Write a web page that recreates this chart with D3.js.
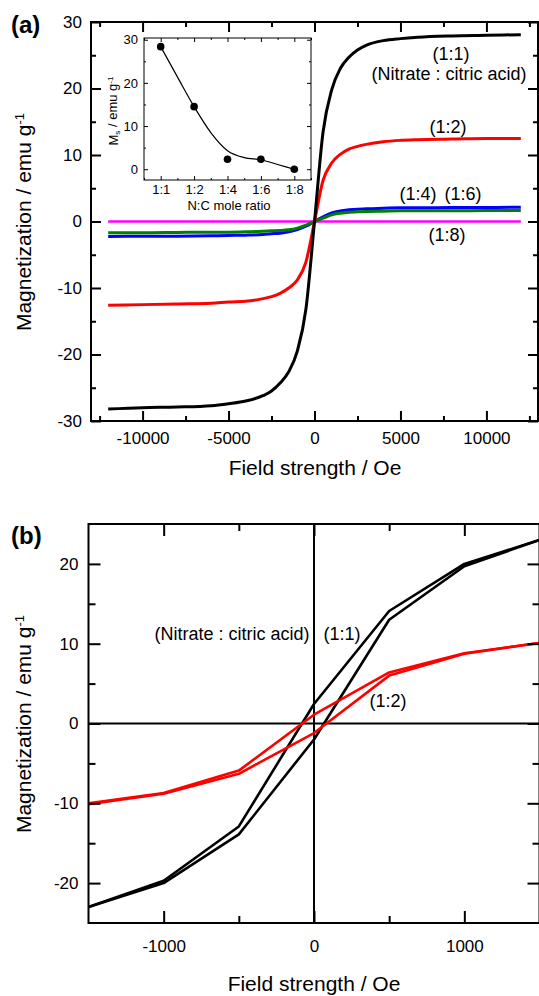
<!DOCTYPE html>
<html><head><meta charset="utf-8">
<script src="https://cdn.jsdelivr.net/npm/d3@7"></script>
<style>body{margin:0;background:#fff}svg{display:block}</style>
</head><body><svg id="c" width="539" height="996"></svg>
<script>
// ---------- DATA ----------
const fieldA = [-12000,-10000,-8000,-6000,-5000,-4000,-3000,-2500,-2000,-1500,-1000,-500,0,500,1000,1500,2000,2500,3000,4000,5000,6000,8000,10000,12000];
const mag11 = [-28.2,-28.0,-27.9,-27.7,-27.4,-27.0,-26.2,-25.5,-24.3,-22.6,-19.5,-13.2,0,13.5,19.8,23.0,24.7,25.8,26.5,27.2,27.5,27.7,27.9,28.0,28.1];
const mag12 = [-12.6,-12.5,-12.4,-12.3,-12.1,-12.0,-11.6,-11.3,-10.8,-10.0,-8.8,-6.1,0,6.2,8.8,10.1,10.9,11.3,11.6,12.0,12.2,12.3,12.4,12.5,12.5];
const mag14 = [-2.25,-2.22,-2.2,-2.15,-2.1,-2.05,-1.95,-1.85,-1.75,-1.55,-1.2,-0.7,0,0.7,1.3,1.6,1.75,1.85,1.9,2.0,2.05,2.05,2.1,2.1,2.15];
const mag16 = [-1.7,-1.7,-1.65,-1.6,-1.6,-1.55,-1.45,-1.4,-1.35,-1.25,-1.0,-0.55,0,0.5,1.0,1.25,1.4,1.45,1.5,1.55,1.6,1.6,1.6,1.65,1.65];
const mag18 = [0,0,0,0,0,0,0,0,0,0,0,0,0,0,0,0,0,0,0,0,0,0,0,0,0];

const ratios = ["1:1","1:2","1:4","1:6","1:8"];
const msValues = [28.4,14.5,2.3,2.3,0];
const fitPos = [0,0.5,1,1.5,2,2.5,3,3.5,4];
const fitMs = [28.4,21.4,14.5,8.5,4.3,2.7,2.2,1.1,0];

const fieldB = [-1500,-1000,-500,0,500,1000,1500];
const desc11 = [-23.0,-19.7,-12.9,2.45,14.1,20.0,23.0];
const asc11  = [-23.0,-20.0,-13.9,-2.0,13.0,19.7,23.0];
const desc12 = [-10.0,-8.7,-5.9,1.1,6.4,8.8,10.1];
const asc12  = [-10.1,-8.8,-6.3,-1.2,6.0,8.75,10.1];

const ticksAx = [-10000,-5000,0,5000,10000];
const minorAx = [-12500,-7500,-2500,2500,7500,12500];
const ticksAy = [-30,-20,-10,0,10,20,30];
const minorAy = [-25,-15,-5,5,15,25];
const ticksBx = [-1000,0,1000];
const minorBx = [-500,500];
const ticksBy = [-20,-10,0,10,20];
const minorBy = [-15,-5,5,15];
const insetTicksY = [0,10,20,30];
const insetMinorY = [5,15,25];

// ---------- DRAW ----------
const FONT = "'Liberation Sans', Arial, Helvetica, sans-serif";
const svg = d3.select("#c").style("font-family", FONT);

function styleAxis(g, sw, fs){
  g.select(".domain").remove();
  g.selectAll("line").attr("stroke","#000").attr("stroke-width",sw);
  g.attr("font-family",FONT).attr("font-size",fs);
  g.selectAll("text").attr("fill","#000");
}

function frame(x, y, o){
  const [x0,x1] = x.range(), [y0,y1] = [y.range()[1], y.range()[0]];
  const g = svg.append("g");
  // bottom
  g.append("g").attr("transform",`translate(0,${y.range()[0]})`)
    .call(d3.axisBottom(x).tickValues(o.xt).tickSize(-o.maj).tickPadding(o.xpad).tickFormat(o.xf))
    .call(a=>styleAxis(a,o.sw,o.fs));
  g.append("g").attr("transform",`translate(0,${y.range()[0]})`)
    .call(d3.axisBottom(x).tickValues(o.xm).tickSize(-o.min).tickFormat(""))
    .call(a=>styleAxis(a,o.sw,o.fs));
  // top
  g.append("g").attr("transform",`translate(0,${y.range()[1]})`)
    .call(d3.axisTop(x).tickValues(o.xt.concat(o.xm)).tickSize(-o.maj).tickFormat(""))
    .call(a=>{styleAxis(a,o.sw,o.fs); a.selectAll(".tick").filter(d=>o.xm.includes(d)).select("line").attr("y2",o.min);});
  // left
  g.append("g").attr("transform",`translate(${x0},0)`)
    .call(d3.axisLeft(y).tickValues(o.yt).tickSize(-o.maj).tickPadding(o.ypad).tickFormat(o.yf))
    .call(a=>styleAxis(a,o.sw,o.fs));
  g.append("g").attr("transform",`translate(${x0},0)`)
    .call(d3.axisLeft(y).tickValues(o.ym).tickSize(-o.min).tickFormat(""))
    .call(a=>styleAxis(a,o.sw,o.fs));
  // right
  g.append("g").attr("transform",`translate(${x1},0)`)
    .call(d3.axisRight(y).tickValues(o.yt).tickSize(-o.maj).tickFormat(""))
    .call(a=>styleAxis(a,o.sw,o.fs));
  g.append("g").attr("transform",`translate(${x1},0)`)
    .call(d3.axisRight(y).tickValues(o.ym).tickSize(-o.min).tickFormat(""))
    .call(a=>styleAxis(a,o.sw,o.fs));
  g.append("rect").attr("x",x0).attr("y",y.range()[1]).attr("width",x1-x0).attr("height",y.range()[0]-y.range()[1])
    .attr("fill","none").attr("stroke","#000").attr("stroke-width",o.sw);
  return g;
}

function yTitle(cx, cy){
  const t = svg.append("text").attr("transform",`translate(${cx},${cy}) rotate(-90)`)
    .attr("text-anchor","middle").attr("font-size",21).attr("fill","#000");
  t.append("tspan").text("Magnetization / emu g");
  t.append("tspan").attr("dy","-0.55em").attr("font-size",13).text("-1");
}
function label(x, y, s, fs){
  svg.append("text").attr("x",x).attr("y",y).attr("text-anchor","middle")
    .attr("font-size",fs||18).attr("fill","#000").text(s);
}

// ===== Panel (a) =====
const xA = d3.scaleLinear().domain([-13000,13000]).range([91,538]);
const yA = d3.scaleLinear().domain([-30,30]).range([421,22]);
const lineA = arr => d3.line().x((d,i)=>xA(fieldA[i])).y(d=>yA(d)).curve(d3.curveMonotoneX)(arr);

const seriesA = [
  {v:mag18,c:"#ff00ff",w:2.6},
  {v:mag14,c:"#0000ff",w:3},
  {v:mag16,c:"#008000",w:3},
  {v:mag12,c:"#ff0000",w:3},
  {v:mag11,c:"#000000",w:3}
];
seriesA.forEach(s=>svg.append("path").attr("d",lineA(s.v)).attr("fill","none")
  .attr("stroke",s.c).attr("stroke-width",s.w).attr("stroke-linejoin","round"));

frame(xA,yA,{xt:ticksAx,xm:minorAx,yt:ticksAy,ym:minorAy,maj:10,min:5,sw:2,fs:17,
  xpad:11,ypad:9,xf:d3.format("d"),yf:d3.format("d")});

yTitle(31,222);
svg.append("text").attr("x",315).attr("y",475).attr("text-anchor","middle").attr("font-size",21).text("Field strength / Oe");
svg.append("text").attr("x",11).attr("y",33).attr("font-size",24).attr("font-weight","bold").text("(a)");

label(451,59.5,"(1:1)");
label(449,79.5,"(Nitrate : citric acid)");
label(448,133,"(1:2)");
label(418,200,"(1:4)");
label(463,200,"(1:6)");
label(447,241,"(1:8)");

// ----- Inset -----
const xI = d3.scaleLinear().domain([-0.5,4.5]).range([144,311]);
const yI = d3.scaleLinear().domain([-2.5,30.4]).range([180,38]);
svg.append("rect").attr("x",144).attr("y",38).attr("width",167).attr("height",142).attr("fill","#fff");
const gi = svg.append("g");
const iopt = {sw:1};
function insetAxes(){
  const idx = ratios.map((r,i)=>i);
  const mids = [-0.5,0.5,1.5,2.5,3.5,4.5];
  gi.append("g").attr("transform","translate(0,180)")
    .call(d3.axisBottom(xI).tickValues(idx).tickSize(-4).tickPadding(5).tickFormat(i=>ratios[i]))
    .call(a=>styleAxis(a,1,13));
  gi.append("g").attr("transform","translate(0,180)")
    .call(d3.axisBottom(xI).tickValues(mids).tickSize(-2).tickFormat(""))
    .call(a=>styleAxis(a,1,13));
  gi.append("g").attr("transform","translate(0,38)")
    .call(d3.axisTop(xI).tickValues(idx).tickSize(-4).tickFormat(""))
    .call(a=>styleAxis(a,1,13));
  gi.append("g").attr("transform","translate(0,38)")
    .call(d3.axisTop(xI).tickValues(mids).tickSize(-2).tickFormat(""))
    .call(a=>styleAxis(a,1,13));
  gi.append("g").attr("transform","translate(144,0)")
    .call(d3.axisLeft(yI).tickValues(insetTicksY).tickSize(-4).tickPadding(6).tickFormat(d3.format("d")))
    .call(a=>styleAxis(a,1,13));
  gi.append("g").attr("transform","translate(144,0)")
    .call(d3.axisLeft(yI).tickValues(insetMinorY).tickSize(-2).tickFormat(""))
    .call(a=>styleAxis(a,1,13));
  gi.append("g").attr("transform","translate(311,0)")
    .call(d3.axisRight(yI).tickValues(insetTicksY).tickSize(-4).tickFormat(""))
    .call(a=>styleAxis(a,1,13));
  gi.append("g").attr("transform","translate(311,0)")
    .call(d3.axisRight(yI).tickValues(insetMinorY).tickSize(-2).tickFormat(""))
    .call(a=>styleAxis(a,1,13));
  gi.append("rect").attr("x",144).attr("y",38).attr("width",167).attr("height",142)
    .attr("fill","none").attr("stroke","#000").attr("stroke-width",1);
}
gi.append("path").attr("d",d3.line().x((d,i)=>xI(fitPos[i])).y(d=>yI(d)).curve(d3.curveMonotoneX)(fitMs))
  .attr("fill","none").attr("stroke","#000").attr("stroke-width",1.2);
gi.selectAll("circle").data(msValues).join("circle")
  .attr("cx",(d,i)=>xI(i)).attr("cy",d=>yI(d)).attr("r",3.8).attr("fill","#000");
insetAxes();
{
  const t = svg.append("text").attr("transform","translate(118,111) rotate(-90)")
    .attr("text-anchor","middle").attr("font-size",13).attr("fill","#000");
  t.append("tspan").text("M");
  t.append("tspan").attr("dy","0.3em").attr("font-size",8).text("s");
  t.append("tspan").attr("dy","-0.3em").text(" / emu g");
  t.append("tspan").attr("dy","-0.5em").attr("font-size",8).text("-1");
}
svg.append("text").attr("x",229).attr("y",210).attr("text-anchor","middle").attr("font-size",13).text("N:C mole ratio");

// ===== Panel (b) =====
const xB = d3.scaleLinear().domain([-1500,1500]).range([88.5,539.5]);
const yB = d3.scaleLinear().domain([-25,25]).range([923,524]);
const lineB = arr => d3.line().x((d,i)=>xB(fieldB[i])).y(d=>yB(d))(arr);

// zero lines
svg.append("line").attr("x1",xB(-1500)).attr("x2",xB(1500)).attr("y1",yB(0)).attr("y2",yB(0)).attr("stroke","#000").attr("stroke-width",2);
svg.append("line").attr("x1",xB(0)).attr("x2",xB(0)).attr("y1",yB(-25)).attr("y2",yB(25)).attr("stroke","#000").attr("stroke-width",2);

[{v:desc11,c:"#000"},{v:asc11,c:"#000"},{v:desc12,c:"#ff0000"},{v:asc12,c:"#ff0000"}]
  .forEach(s=>svg.append("path").attr("d",lineB(s.v)).attr("fill","none").attr("stroke",s.c)
    .attr("stroke-width",2.6).attr("stroke-linejoin","round"));

frame(xB,yB,{xt:ticksBx,xm:minorBx,yt:ticksBy,ym:minorBy,maj:12,min:7,sw:2,fs:17,
  xpad:17,ypad:10,xf:d3.format("d"),yf:d3.format("d")});

yTitle(31,724);
svg.append("text").attr("x",314).attr("y",991).attr("text-anchor","middle").attr("font-size",21).text("Field strength / Oe");
svg.append("text").attr("x",11).attr("y",544).attr("font-size",24).attr("font-weight","bold").text("(b)");

label(232,640,"(Nitrate : citric acid)");
label(342,640,"(1:1)");
label(388,707,"(1:2)");

// use proper minus-less hyphen labels like the original
svg.selectAll(".tick text").each(function(){ this.textContent = this.textContent.replace("\u2212","-"); });
</script></body></html>
